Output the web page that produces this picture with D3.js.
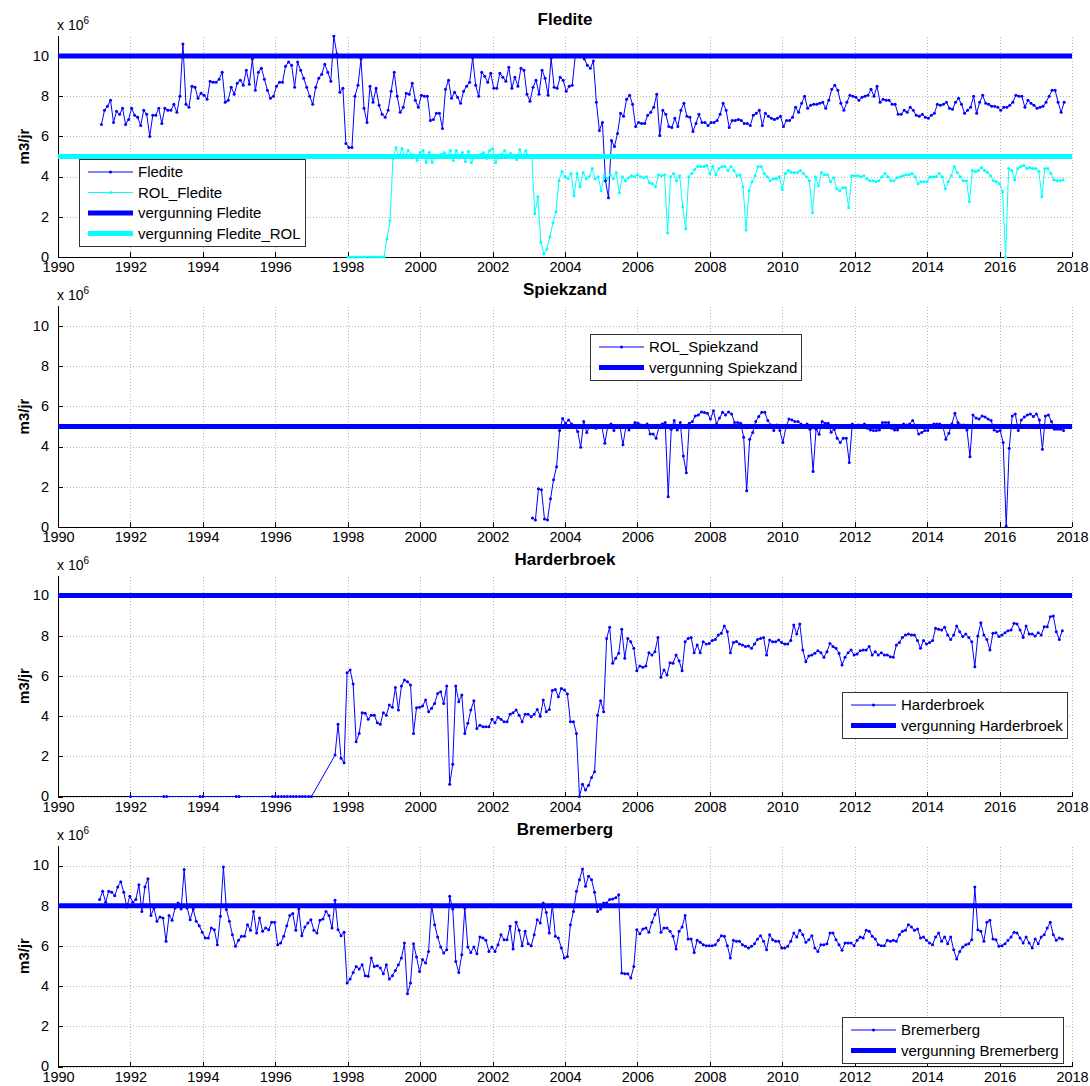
<!DOCTYPE html>
<html lang="nl">
<head>
<meta charset="UTF-8">
<title>Onttrekkingen en vergunningen</title>
<script src="https://d3js.org/d3.v7.min.js"></script>
<style>
  body { margin: 0; background: #fff; font-family: "Liberation Sans", Arial, sans-serif; }
  svg { display: block; }
  .grid line { stroke: #b4b4b4; stroke-dasharray: 1,2; shape-rendering: crispEdges; }
  .grid path { display: none; }
  .axis path, .axis line { stroke: #000; shape-rendering: crispEdges; }
  .axis text { font-size: 14.5px; fill: #000; font-family: "Liberation Sans", Arial, sans-serif; }
  .title { font-size: 17px; font-weight: bold; }
  .ylab { font-size: 15px; font-weight: bold; }
  .legend text { font-size: 15px; }
</style>
</head>
<body>
<script>
// ---------- data (values in 10^6 m3/jr) ----------
const yearTicks = d3.range(1990, 2019, 2);
const valueTicks = [0, 2, 4, 6, 8, 10];

// Fledite, monthly from early 1991
const fleditStart = 1991.2;
const fleditVals = [
  6.6, 7.3, 7.5, 7.8, 6.7, 7.25, 7.1, 7.4, 6.6, 6.85, 7.4, 7.05,
  6.95, 6.55, 7.3, 7.1, 6.0, 7.05, 7.05, 7.4, 6.65, 7.4, 7.3, 7.3,
  7.6, 7.2, 8.0, 10.6, 7.6, 7.45, 8.5, 8.45, 7.9, 8.15, 8.05, 7.85,
  8.75, 8.7, 8.7, 8.85, 9.2, 7.7, 7.8, 8.45, 8.1, 8.65, 8.8, 8.55,
  9.3, 8.6, 9.85, 8.3, 9.2, 9.4, 8.85, 8.3, 7.9, 8.0, 8.5, 8.7,
  8.7, 9.5, 9.7, 9.55, 8.45, 9.7, 9.3, 8.9, 8.45, 8.0, 7.6, 8.45,
  8.9, 9.1, 9.6, 9.2, 8.75, 11.0, 10.1, 8.2, 8.4, 5.65, 5.45, 5.45,
  8.0, 8.55, 9.85, 7.4, 6.7, 8.5, 7.7, 8.4, 7.55, 7.1, 6.95, 7.3,
  8.25, 9.2, 8.0,
  7.2, 7.45, 8.15, 8.1, 8.65, 7.8, 7.45, 8.05, 8.0, 8.0, 6.8, 6.85,
  7.15, 7.15, 6.4, 8.35, 8.8, 7.9, 8.2, 7.95, 7.65, 8.25, 8.5, 8.7,
  9.9, 8.55, 8.0, 9.2, 9.0, 8.7, 9.15, 8.4, 8.4, 9.15, 8.95, 8.75,
  9.45, 8.4, 8.95, 8.5, 9.4, 9.3, 8.1, 7.75, 8.45, 8.8, 8.1, 9.3,
  8.9, 8.05, 9.9, 8.45, 8.4, 8.95, 8.8, 8.25, 8.5, 8.55, 10.0, 10.0,
  10.0, 9.85, 9.55, 9.4, 9.75, 7.7, 6.3, 6.7, 3.8, 2.95, 5.8, 5.5,
  6.15, 7.15, 7.0, 7.85, 8.05, 7.6, 6.5, 6.7, 6.65, 6.65, 7.05, 7.2,
  7.45, 8.1, 6.05, 7.3, 7.1, 6.5, 6.45, 6.9, 6.5, 7.3, 7.65, 7.0,
  6.95, 6.25, 6.65, 7.1, 6.7, 6.7, 6.55, 6.7, 6.7, 6.8, 7.1, 7.65,
  7.3, 6.45, 6.8, 6.8, 6.85, 6.8, 6.65, 6.65, 6.55, 7.05, 7.15, 7.3,
  6.55, 7.15, 7.0, 6.9, 6.85, 6.9,
  7.0, 6.5, 6.8, 6.8, 6.95, 7.45, 7.2, 7.65, 8.0, 7.4, 7.55, 7.6,
  7.6, 7.65, 7.7, 7.4, 7.8, 8.35, 8.55, 8.3, 7.65, 7.3, 7.7, 8.05,
  8.0, 7.95, 7.8, 7.95, 8.0, 8.05, 8.35, 8.0, 8.5, 7.7, 7.85, 7.8,
  7.8, 7.6, 7.6, 7.1, 7.1, 7.3, 7.2, 7.45, 7.3, 7.05, 7.0, 7.1,
  6.95, 6.9, 7.05, 7.15, 7.6, 7.55, 7.6, 7.7, 7.4, 7.35, 7.7, 7.9,
  7.6, 7.15, 7.3, 7.45, 8.0, 7.15, 7.7, 8.05, 7.65, 7.6, 7.5, 7.5,
  7.45, 7.3, 7.45, 7.45, 7.55, 7.7, 8.05, 8.0, 8.0, 7.45, 7.8, 7.65,
  7.55, 7.4, 7.45, 7.5, 7.7, 8.0, 8.3, 8.3, 7.7, 7.2, 7.7
];

// ROL_Fledite, monthly from 1998
const rolFleditStart = 1998.0;
const rolFleditVals = [
  0, 0, 0, 0, 0, 0, 0, 0, 0, 0, 0, 0, 0, 0.9, 1.8, 4.9,
  5.45, 5.0, 5.4, 4.95, 5.3, 5.1, 5.0, 4.8, 5.2, 5.3, 4.7, 5.2,
  4.7, 5.0, 5.0, 5.1, 5.2, 5.0, 5.3, 4.8, 5.3, 5.0, 5.2, 4.75,
  5.25, 4.7, 5.0, 5.0, 5.1, 5.2, 4.9, 5.3, 5.4, 4.7, 5.0, 5.1,
  5.3, 4.95, 5.15, 5.0, 4.85, 5.35, 5.0, 5.3,
  4.95, 4.98, 2.15, 3.0, 0.75, 0.15, 0.4, 1.0, 1.7, 2.25, 3.8, 4.25,
  4.0, 3.9, 4.15, 3.05, 4.15, 3.5, 4.2, 3.9, 4.0, 4.4, 3.9, 4.0,
  3.3, 4.05, 3.9, 4.1, 3.9, 4.2, 3.2, 4.0, 3.8, 3.95, 4.05, 4.0,
  4.1, 4.0, 3.95, 4.0, 3.7, 3.65, 3.5, 4.1, 4.05, 4.1, 1.2, 4.0,
  4.15, 3.8, 4.05, 2.5, 1.4, 4.0, 4.15, 4.35, 4.5, 4.5, 4.5, 4.55,
  4.15, 4.5, 4.1, 4.4, 4.5, 4.5, 4.3, 4.5, 4.3, 4.05, 4.1, 3.5,
  1.35, 3.3, 3.75, 4.05, 4.5, 4.5, 4.15, 4.0, 3.8, 3.9, 3.9, 4.0,
  3.35, 4.15, 4.3, 4.2, 4.2, 4.2, 4.3, 4.15, 4.0, 3.8, 2.2, 4.0,
  3.55, 4.2, 4.1, 4.1, 3.75, 3.95, 3.4, 3.3, 3.45, 3.45, 2.45, 4.05,
  4.05, 4.05, 4.0, 4.05, 3.9, 3.8, 3.8, 3.75, 3.8, 4.0, 4.15, 4.0,
  3.8, 3.8, 3.95, 4.0, 4.05, 4.1, 4.1, 4.15, 4.0, 3.65, 3.75, 3.75,
  3.75, 4.0, 4.0, 4.0, 4.15, 4.0, 3.4, 3.75, 4.05, 4.5, 4.2, 4.0,
  3.8, 3.8, 2.75, 4.3, 4.25, 4.3, 4.45, 4.3, 4.2, 4.05, 3.8, 3.75,
  3.65, 3.25, 0, 4.4, 4.3, 3.85, 4.4, 4.5, 4.55, 4.4, 4.45, 4.4,
  4.4, 4.25, 3.0, 4.4, 4.4, 4.15, 3.85, 3.8, 3.8, 3.85
];

// ROL_Spiekzand, monthly from 2003
const spiekStart = 2003.1;
const spiekVals = [
  0.45, 0.35, 1.9, 1.85, 0.4, 0.35, 1.4, 2.35, 3.0, 4.8, 5.4, 5.15,
  5.33, 5.13, 5.03, 4.75, 3.97, 5.25, 4.7, 5.0, 5.03, 4.92, 5.03, 5.03,
  4.17, 5.03, 5.13, 4.8, 5.0, 5.0, 4.09, 5.0, 4.83, 5.03, 5.2, 5.17,
  5.08, 5.03, 5.13, 4.63, 4.63, 4.42, 5.0, 5.13, 5.2, 1.51, 4.87, 5.3,
  4.83, 5.2, 3.54, 2.7, 5.17, 5.25, 5.53, 5.58, 5.73, 5.7, 5.66, 5.37,
  5.78, 5.13, 5.42, 5.71, 5.58, 5.73, 5.63, 5.2, 5.2, 5.17, 4.47, 1.81,
  4.37, 4.7, 5.25, 5.5, 5.71, 5.71, 5.3, 5.08, 4.8, 5.08, 4.8, 4.2,
  4.97, 5.37, 5.33, 5.25, 5.25, 5.13, 5.03, 5.13, 4.87, 2.76, 4.87, 4.62,
  5.25, 5.17, 5.17, 4.72, 4.87, 4.42, 4.2, 4.42, 4.42, 3.21, 5.13, 5.03,
  5.08, 5.03, 5.13, 4.92, 4.83, 4.8, 4.8, 4.83, 5.2, 5.2, 5.2, 4.92,
  4.83, 4.83, 5.0, 5.13, 5.08, 5.13, 5.3, 5.03, 4.63, 4.7, 4.8, 4.8,
  5.0, 5.13, 5.13, 5.13, 5.03, 4.37, 4.67, 5.13, 5.66, 5.2, 5.08, 5.08,
  4.83, 3.5, 5.58, 5.42, 5.37, 5.53, 5.47, 5.37, 5.3, 4.83, 4.75, 4.8,
  4.2, 0.05, 3.92, 5.53, 5.63, 4.8, 5.33, 5.47, 5.58, 5.63, 5.5, 5.63,
  5.33, 3.87, 5.53, 5.58, 5.25, 4.87, 4.87, 4.87, 4.8
];

// Harderbroek: a few early readings, then monthly from mid 1997
const harderEarlyYears = [1992.0, 1992.92, 1993.0, 1993.92, 1994.0, 1994.92, 1995.0,
  1995.92, 1996.0, 1996.08, 1996.17, 1996.25, 1996.33, 1996.42, 1996.5, 1996.58,
  1996.67, 1996.75, 1996.83, 1996.92, 1997.0];
const harderEarlyVals = [0, 0, 0, 0, 0, 0, 0, 0, 0, 0, 0, 0, 0, 0, 0, 0, 0, 0, 0, 0, 0];
const harderStart = 1997.65;
const harderVals = [
  2.06, 3.6, 1.9, 1.68, 6.16, 6.3, 5.6, 2.72, 3.14, 4.17, 4.14, 3.84,
  4.05, 4.05, 3.67, 3.6, 4.17, 4.05, 4.55, 4.44, 5.43, 4.3, 5.5, 5.8,
  5.71, 5.55, 3.14, 4.42, 4.44, 4.5, 4.8, 4.22, 4.39, 4.63, 5.13, 5.22,
  4.63, 5.5, 0.61, 1.61, 5.5, 4.72, 5.05, 3.14, 3.64, 4.3, 4.77, 3.39,
  3.55, 3.47, 3.47, 3.47, 3.84, 3.67, 3.94, 3.84, 3.72, 3.72, 4.1, 4.17,
  4.3, 4.05, 3.72, 4.1, 4.1, 3.97, 4.1, 4.33, 4.0, 4.8, 4.22, 4.33,
  5.27, 5.33, 4.97,
  5.38, 5.3, 5.1, 3.72, 3.72, 3.14, 0, 0.61, 0.32, 0.56, 0.95, 1.23,
  4.05, 4.77, 4.22, 7.87, 8.42, 6.63, 6.88, 7.13, 8.32, 6.88, 7.87, 7.7,
  7.38, 6.26, 6.5, 6.43, 6.5, 7.16, 7.04, 7.21, 7.92, 5.93, 6.3, 6.05,
  6.66, 6.63, 7.04, 6.76, 6.26, 7.7, 7.87, 7.92, 7.16, 7.54, 7.16, 7.7,
  7.59, 7.62, 7.76, 7.82, 8.04, 8.12, 8.49, 8.2, 7.16, 7.67, 7.72, 7.59,
  7.54, 7.46, 7.49, 7.38, 7.59, 7.82, 7.87, 7.92, 7.04, 7.79, 7.7, 7.7,
  7.79, 7.66, 7.59, 7.59, 7.76, 8.54, 8.09, 8.59, 7.29, 6.71, 6.99, 7.04,
  7.13, 7.26, 7.16, 6.93, 7.21, 7.62, 7.46, 7.38, 7.13, 6.55, 6.93, 7.16,
  7.29, 7.04, 7.09, 7.26, 7.29, 7.29, 7.46, 7.04, 7.21, 7.04, 7.16, 7.04,
  7.04, 6.96, 6.93, 7.54, 7.66, 7.92, 8.04, 8.09, 8.04, 8.04, 7.76, 7.38,
  7.76, 7.59, 7.66, 7.76, 8.37, 8.32, 8.29, 8.42, 8.04, 7.82, 8.04, 8.49,
  8.2, 7.96, 8.09, 7.92, 7.7, 6.46, 7.99, 8.65, 8.04, 7.82, 7.29, 8.12,
  8.15, 7.96, 8.04, 8.15, 8.25, 8.29, 8.62, 8.59, 8.29, 7.92, 8.49, 8.09,
  8.09, 7.99, 8.15, 8.04, 8.45, 8.45, 8.95, 8.99, 8.2, 7.82, 8.25
];

// Bremerberg, monthly from early 1991
const bremerStart = 1991.15;
const bremerVals = [
  8.31, 8.72, 8.17, 8.72, 8.67, 8.5, 8.94, 9.19, 8.67, 7.94, 8.47, 8.17,
  8.31, 9.05, 7.72, 8.94, 9.35, 7.51, 7.89, 7.23, 7.44, 7.39, 6.23, 7.51,
  7.28, 7.89, 8.14, 7.84, 9.8, 7.89, 7.31, 7.84, 7.23, 7.01, 6.68, 6.4,
  6.4, 6.89, 6.81, 6.06, 7.48, 9.93, 7.81, 7.23, 6.56, 5.98, 6.28, 6.48,
  6.48, 7.06, 6.78, 7.72, 6.64, 7.39, 6.73, 6.89, 6.81, 7.18, 7.18, 6.06,
  6.15, 6.48, 7.01, 7.51, 7.61, 6.78, 7.84, 6.51, 6.94, 7.14, 7.31, 6.78,
  6.64, 7.28, 7.34, 7.72, 7.51, 6.89, 8.27, 6.81, 6.51, 6.68, 4.15, 4.35,
  4.68, 4.98, 4.85, 5.07, 4.52, 4.49, 5.4, 4.98, 5.02, 4.9, 4.62, 5.07,
  4.35, 4.52, 4.78, 5.07, 5.4, 6.15, 3.62, 4.15, 6.11, 5.45, 4.73, 5.32,
  5.15, 5.73, 8.06, 7.06, 6.45, 5.95, 5.65, 5.81, 8.47, 7.84, 5.23, 4.68,
  5.56, 7.89, 5.95, 5.68, 5.95, 5.61, 6.45, 6.4, 6.28, 5.73, 5.95, 5.73,
  6.06, 6.56, 6.31, 6.31, 6.98, 5.85, 7.18, 6.78, 6.01, 6.73, 6.11, 6.01,
  6.56, 7.31, 7.14, 8.14, 7.67, 6.64, 8.06, 6.48, 6.4,
  5.9, 5.4, 5.48, 7.06, 7.72, 8.72, 9.3, 9.83, 8.97, 9.47, 9.3, 8.67,
  7.72, 7.84, 8.14, 8.14, 8.31, 8.34, 8.4, 8.55, 4.65, 4.62, 4.62, 4.4,
  4.98, 6.81, 6.61, 6.84, 6.89, 6.68, 7.18, 7.56, 7.94, 6.68, 6.89, 6.89,
  6.73, 6.48, 5.85, 6.73, 6.94, 7.51, 6.35, 6.35, 5.68, 6.28, 6.18, 6.06,
  6.01, 6.01, 6.01, 6.06, 6.28, 6.51, 6.48, 6.01, 5.4, 6.28, 6.23, 6.23,
  6.06, 5.98, 5.9, 5.98, 6.11, 6.35, 6.51, 6.23, 5.81, 6.56, 6.31, 6.23,
  6.23, 5.9, 5.9, 5.98, 6.23, 6.64, 6.45, 6.78, 6.56, 6.18, 6.31, 6.51,
  5.9, 5.73, 6.06, 6.06, 6.11, 6.64, 6.64, 6.31, 6.06, 5.78, 6.15, 6.15,
  6.15, 6.01, 6.28, 6.45, 6.4, 6.78, 6.73, 6.48, 6.35, 6.06, 6.01, 6.01,
  6.28, 6.23, 6.28, 6.23, 6.56, 6.73, 6.78, 7.06, 6.94, 6.78, 6.84, 6.4,
  6.45, 6.28, 6.15, 6.06, 6.45, 6.64, 6.23, 6.45, 6.11, 6.45, 5.81, 5.35,
  5.73, 5.95, 6.06, 6.11, 6.31, 8.94, 6.81, 6.73, 6.23, 7.18, 7.28, 6.35,
  6.31, 5.98, 6.01, 6.11, 6.28, 6.45, 6.68, 6.64, 6.4, 6.15, 6.45, 6.15,
  5.9, 6.35, 6.11, 6.45, 6.56, 6.89, 7.18, 6.56, 6.28, 6.4, 6.35
];

// permits (vergunning) per panel
const vergFledite = 10, vergFleditRol = 5, vergSpiek = 5, vergHarder = 10, vergBremer = 8;

// ---------- helpers ----------
function monthly(start, vals) {
  return vals.map((v, i) => [start + i / 12, v]);
}
function pairs(years, vals) {
  return years.map((t, i) => [t, vals[i]]);
}

const BLUE = "#0000ff", CYAN = "#00ffff";

const panels = [
  {
    title: "Fledite", top: 36,
    series: [
      { name: "Fledite", color: BLUE, data: monthly(fleditStart, fleditVals) },
      { name: "ROL_Fledite", color: CYAN, data: monthly(rolFleditStart, rolFleditVals) }
    ],
    limits: [
      { name: "vergunning Fledite", color: BLUE, value: vergFledite },
      { name: "vergunning Fledite_ROL", color: CYAN, value: vergFleditRol }
    ],
    legend: { x: 79, y: 159 }
  },
  {
    title: "Spiekzand", top: 306,
    series: [{ name: "ROL_Spiekzand", color: BLUE, data: monthly(spiekStart, spiekVals) }],
    limits: [{ name: "vergunning Spiekzand", color: BLUE, value: vergSpiek }],
    legend: { x: 590, y: 334 }
  },
  {
    title: "Harderbroek", top: 575.5,
    series: [{ name: "Harderbroek", color: BLUE,
      data: pairs(harderEarlyYears, harderEarlyVals).concat(monthly(harderStart, harderVals)) }],
    limits: [{ name: "vergunning Harderbroek", color: BLUE, value: vergHarder }],
    legend: { x: 842, y: 692 }
  },
  {
    title: "Bremerberg", top: 845.5,
    series: [{ name: "Bremerberg", color: BLUE, data: monthly(bremerStart, bremerVals) }],
    limits: [{ name: "vergunning Bremerberg", color: BLUE, value: vergBremer }],
    legend: { x: 842, y: 1017 }
  }
];

// ---------- drawing ----------
const W = 1090, H = 1086, PH = 221;
const svg = d3.select("body").append("svg").attr("width", W).attr("height", H);
const x = d3.scaleLinear().domain([1990, 2018]).range([58, 1072]);

panels.forEach((p, k) => {
  const y = d3.scaleLinear().domain([0, 11]).range([p.top + PH, p.top]);
  const g = svg.append("g");

  // grid
  g.append("g").attr("class", "grid")
    .attr("transform", `translate(0,${p.top + PH})`)
    .call(d3.axisBottom(x).tickValues(yearTicks).tickSize(-PH).tickFormat(""));
  g.append("g").attr("class", "grid")
    .attr("transform", `translate(${x(1990)},0)`)
    .call(d3.axisLeft(y).tickValues(valueTicks).tickSize(-(x(2018) - x(1990))).tickFormat(""));

  // axes (ticks pointing inward)
  g.append("g").attr("class", "axis")
    .attr("transform", `translate(0,${p.top + PH})`)
    .call(d3.axisBottom(x).tickValues(yearTicks).tickSize(-5).tickPadding(5).tickFormat(d3.format("d")))
    .call(a => a.select(".domain").attr("d", `M${x(1990)},0H${x(2018)}`));
  g.append("g").attr("class", "axis")
    .attr("transform", `translate(${x(1990)},0)`)
    .call(d3.axisLeft(y).tickValues(valueTicks).tickSize(-5).tickPadding(9))
    .call(a => a.select(".domain").attr("d", `M0,${y(0)}V${y(11)}`))
    .call(a => a.selectAll(".tick text").attr("dy", "0.3em"));

  // titles and labels
  g.append("text").attr("class", "title")
    .attr("x", (x(1990) + x(2018)) / 2).attr("y", p.top - 11)
    .attr("text-anchor", "middle").text(p.title);
  const mult = g.append("text").attr("x", 57).attr("y", p.top - 6).style("font-size", "14px");
  mult.append("tspan").text("x 10");
  mult.append("tspan").attr("dy", -6).style("font-size", "10px").text("6");
  g.append("text").attr("class", "ylab")
    .attr("transform", `translate(29,${p.top + PH / 2}) rotate(-90)`)
    .attr("text-anchor", "middle").text("m3/jr");

  // clip
  const cid = "clip" + k;
  svg.append("clipPath").attr("id", cid).append("rect")
    .attr("x", x(1990) - 2).attr("y", p.top - 1)
    .attr("width", x(2018) - x(1990) + 4).attr("height", PH + 5);
  const plot = g.append("g").attr("clip-path", `url(#${cid})`);

  const line = d3.line().x(d => x(d[0])).y(d => y(d[1]));
  p.series.forEach(s => {
    plot.append("path").datum(s.data)
      .attr("fill", "none").attr("stroke", s.color).attr("stroke-width", 1)
      .attr("d", line);
    plot.append("g").selectAll("circle").data(s.data).join("circle")
      .attr("cx", d => x(d[0])).attr("cy", d => y(d[1])).attr("r", 1.5)
      .attr("fill", s.color);
  });
  p.limits.forEach(l => {
    plot.append("line")
      .attr("x1", x(1990)).attr("x2", x(2018))
      .attr("y1", y(l.value)).attr("y2", y(l.value))
      .attr("stroke", l.color).attr("stroke-width", 5);
  });

  // legend
  const entries = p.series.map(s => ({ name: s.name, color: s.color, thick: false }))
    .concat(p.limits.map(l => ({ name: l.name, color: l.color, thick: true })));
  const lg = g.append("g").attr("class", "legend")
    .attr("transform", `translate(${p.legend.x},${p.legend.y})`);
  const box = lg.append("rect").attr("fill", "#fff").attr("stroke", "#333").attr("stroke-width", 1);
  let maxW = 0;
  entries.forEach((e, i) => {
    const cy = 13 + i * 20.5;
    lg.append("line").attr("x1", 9).attr("x2", 54).attr("y1", cy).attr("y2", cy)
      .attr("stroke", e.color).attr("stroke-width", e.thick ? 5 : 1);
    if (!e.thick) lg.append("circle").attr("cx", 31.5).attr("cy", cy).attr("r", 1.5).attr("fill", e.color);
    const t = lg.append("text").attr("x", 59).attr("y", cy + 5).text(e.name);
    maxW = Math.max(maxW, t.node().getComputedTextLength());
  });
  box.attr("x", 0.5).attr("y", 0.5)
    .attr("width", Math.round(59 + maxW + 4))
    .attr("height", Math.round(25 + (entries.length - 1) * 20.5));
});
</script>
</body>
</html>
